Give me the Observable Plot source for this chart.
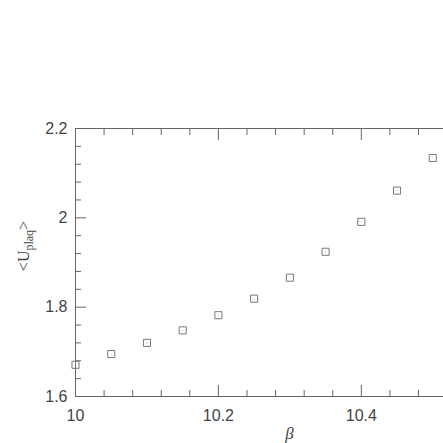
<!DOCTYPE html>
<html><head><meta charset="utf-8">
<script src="https://cdn.jsdelivr.net/npm/d3@7"></script>
<script src="https://cdn.jsdelivr.net/npm/@observablehq/plot@0.6"></script>
<style>body{margin:0;background:#fff}</style>
</head><body><div id="chart"></div>
<script>
const beta = [10.0, 10.05, 10.1, 10.15, 10.2, 10.25, 10.3, 10.35, 10.4, 10.45, 10.5];
const uplaq = [1.671, 1.695, 1.72, 1.748, 1.782, 1.819, 1.866, 1.924, 1.991, 2.061, 2.134];
const xMajor = [10, 10.2, 10.4];
const xMinor = [10.04, 10.08, 10.12, 10.16, 10.24, 10.28, 10.32, 10.36, 10.44, 10.48];
const yMajor = [1.6, 1.8, 2, 2.2];
const yMinor = [1.64, 1.68, 1.72, 1.76, 1.84, 1.88, 1.92, 1.96, 2.04, 2.08, 2.12, 2.16];
const data = beta.map((b, i) => ({beta: b, u: uplaq[i]}));
const gray = "#666";
const font = "'Liberation Sans', Arial, sans-serif";
const serif = "'Liberation Serif', 'Times New Roman', serif";

const plot = Plot.plot({
  width: 443, height: 443,
  marginLeft: 75, marginRight: 0, marginTop: 128, marginBottom: 47,
  style: {fontFamily: font, fontSize: "16px", color: "#444", background: "#fff"},
  x: {domain: [10, 10.515]},
  y: {domain: [1.6, 2.2]},
  marks: [
    Plot.ruleY([1.6, 2.2], {stroke: gray}),
    Plot.ruleX([10], {stroke: gray}),
    Plot.axisX(xMajor, {anchor: "bottom", tickSize: -11, text: null, stroke: gray, label: null}),
    Plot.axisX(xMinor, {anchor: "bottom", tickSize: -6, text: null, stroke: gray, label: null}),
    Plot.axisX(xMajor, {anchor: "bottom", tickSize: 0, tickPadding: 13, fontSize: 16, label: null, fill: "#444", tickFormat: d => String(d)}),
    Plot.axisX(xMajor, {anchor: "top", tickSize: -11, text: null, stroke: gray, label: null}),
    Plot.axisX(xMinor, {anchor: "top", tickSize: -6, text: null, stroke: gray, label: null}),
    Plot.axisY(yMajor, {anchor: "left", tickSize: -11, text: null, stroke: gray, label: null}),
    Plot.axisY(yMinor, {anchor: "left", tickSize: -6, text: null, stroke: gray, label: null}),
    Plot.axisY(yMajor, {anchor: "left", tickSize: 0, tickPadding: 8, fontSize: 16, label: null, fill: "#444", tickFormat: d => String(d)}),
    Plot.dot(data, {x: "beta", y: "u", symbol: "square", r: 4, stroke: "#777", strokeWidth: 1}),
    Plot.dot(data, {x: "beta", y: "u", r: 0.5, fill: "#999", stroke: null}),
    Plot.text(["β"], {frameAnchor: "bottom", dx: 30, dy: 42, fontSize: 17, fontStyle: "italic", fill: "#444", fontFamily: serif})
  ]
});
document.getElementById("chart").appendChild(plot);

// y-axis title with subscript
const svg = d3.select(plot);
const t = svg.append("text")
  .attr("transform", "translate(29,246) rotate(-90)")
  .attr("text-anchor", "middle")
  .style("fill", "#444")
  .style("font-size", "16px")
  .style("font-family", serif);
t.append("tspan").text("<U");
t.append("tspan").style("font-size", "12px").attr("dy", 4).text("plaq");
t.append("tspan").attr("dy", -4).text(">");
</script>
</body></html>
